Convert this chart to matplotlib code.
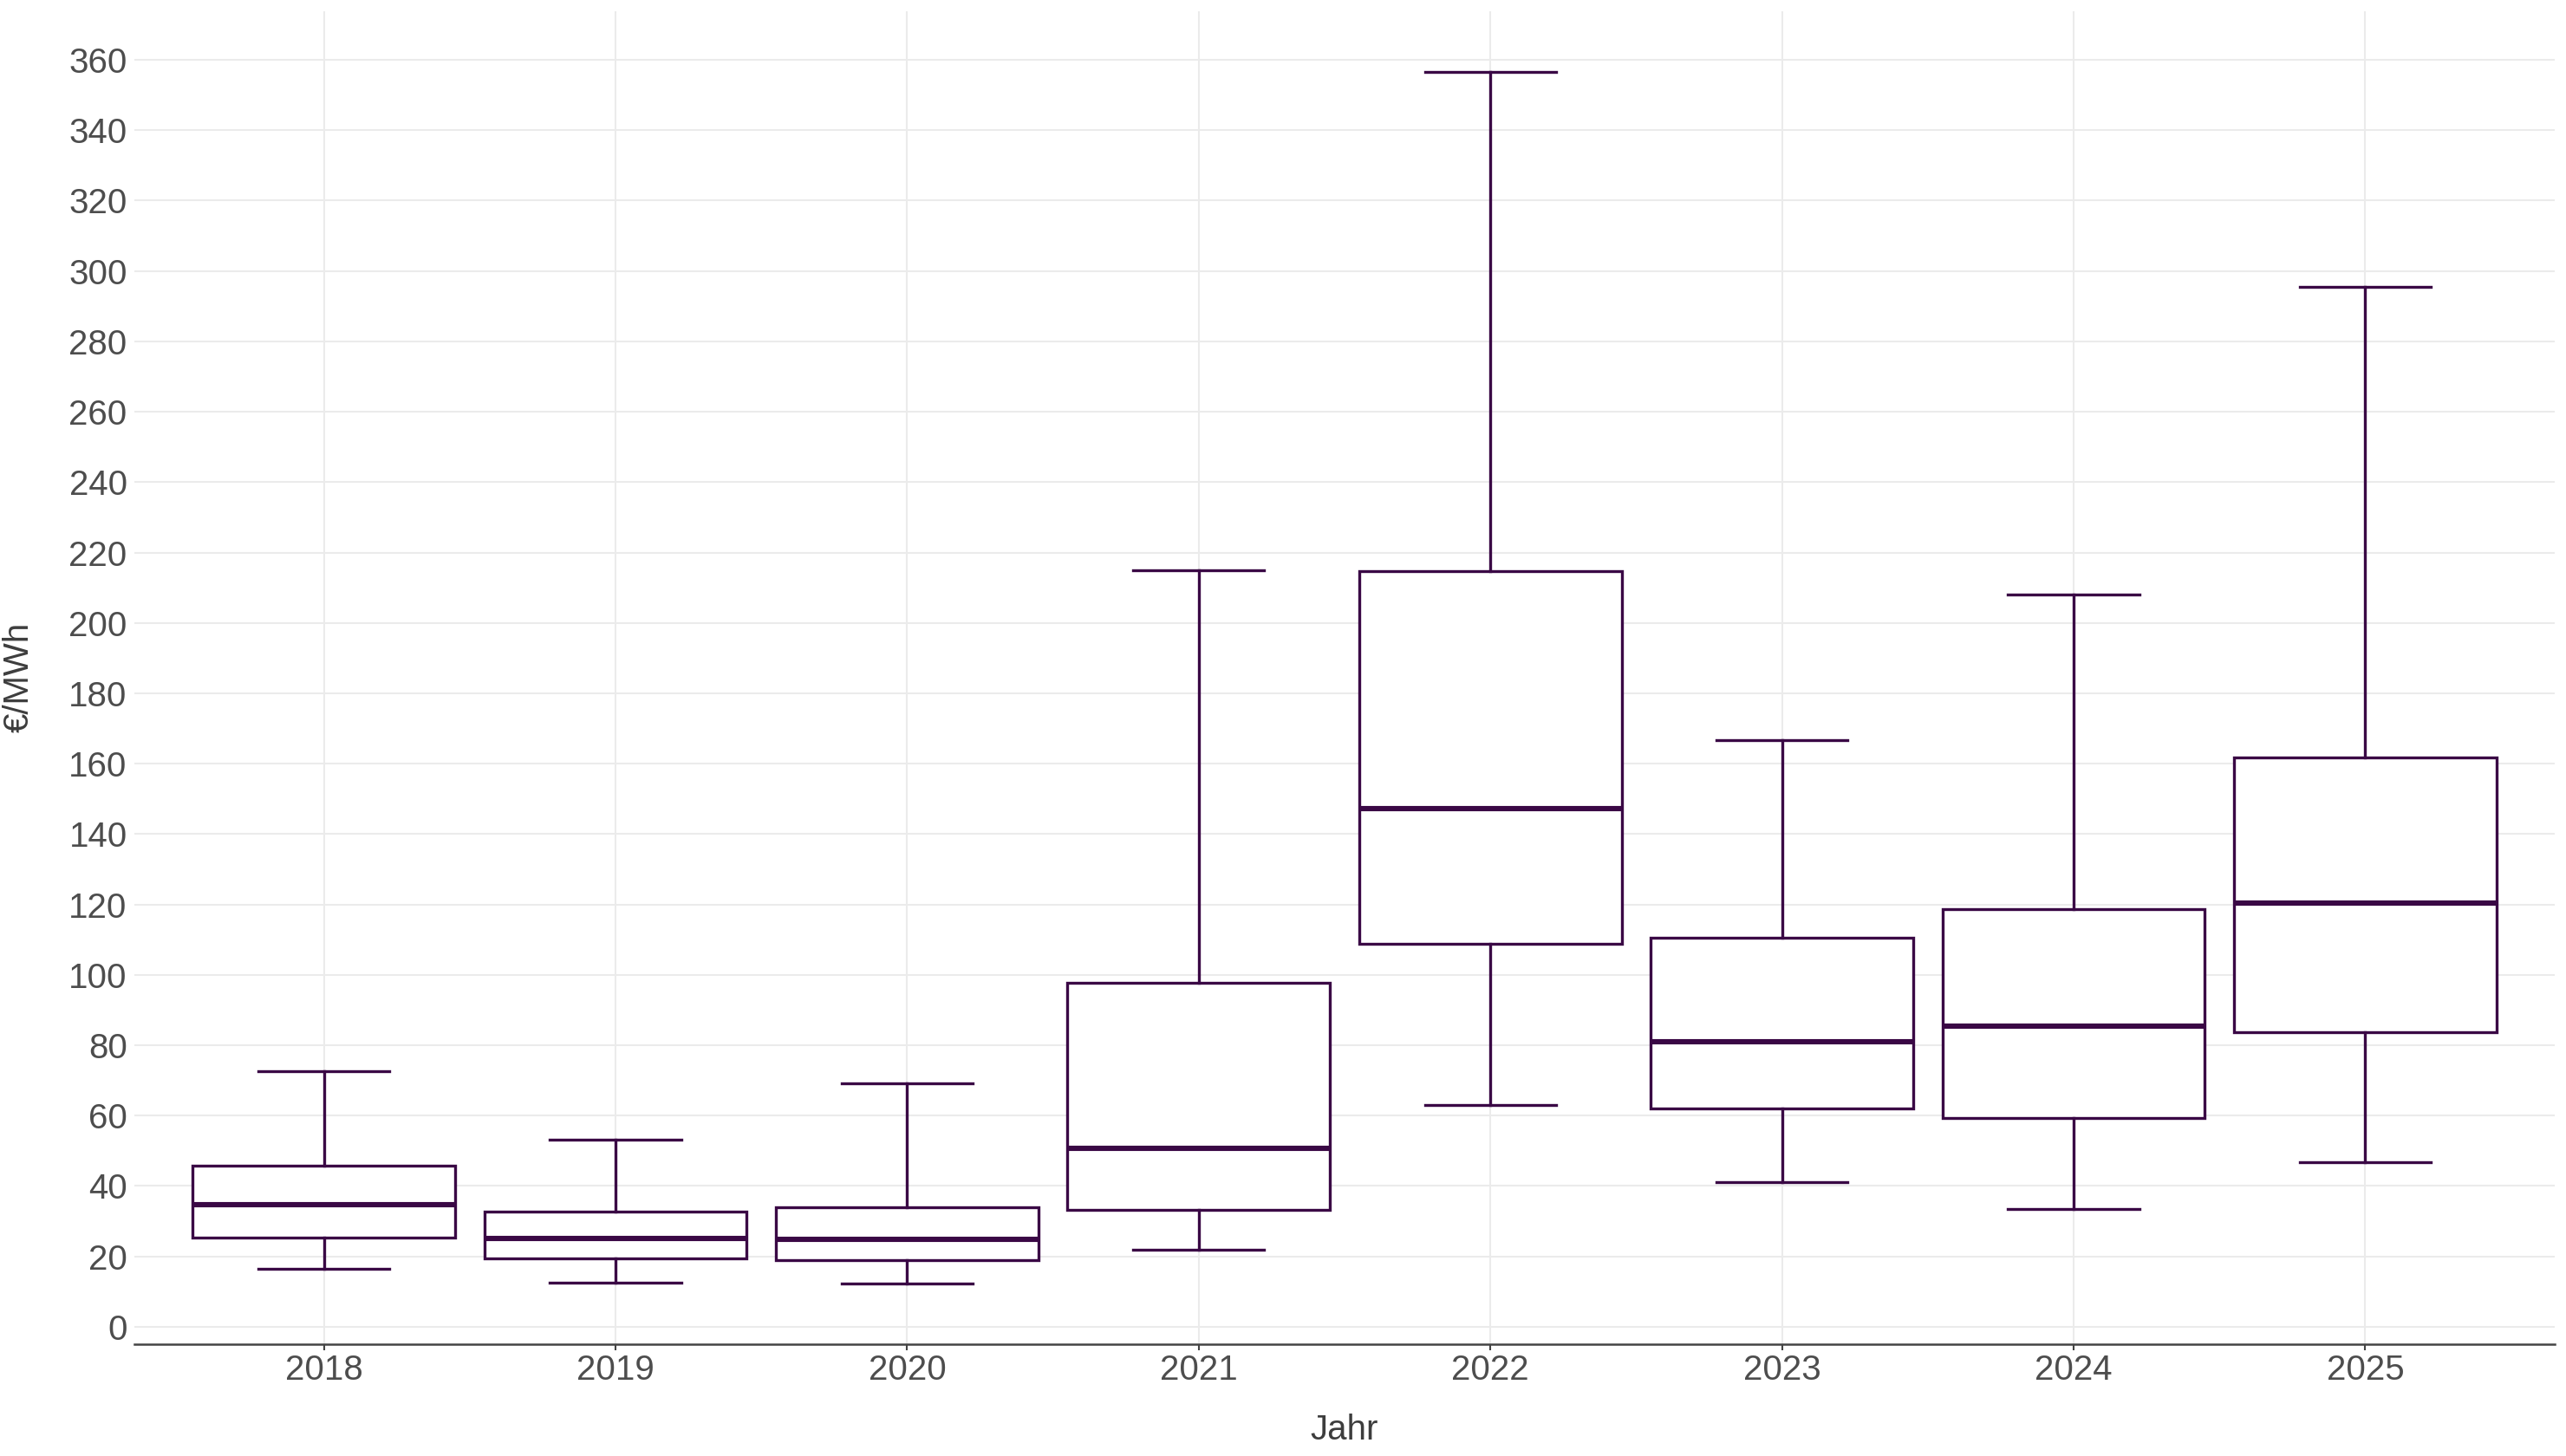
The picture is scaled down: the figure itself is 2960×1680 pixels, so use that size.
import matplotlib.pyplot as plt

# Jahre und Boxplot-Kennzahlen
jahre = ['2018', '2019', '2020', '2021', '2022', '2023', '2024', '2025']
whisker_unten = [16.4, 12.5, 12.2, 21.8, 63.1, 41.1, 33.5, 46.7]
q1 = [25.4, 19.3, 18.9, 33.3, 108.9, 62.1, 59.3, 83.6]
median = [34.6, 25.0, 24.8, 50.8, 147.3, 81.0, 85.4, 120.4]
q3 = [45.8, 32.6, 34.0, 97.8, 214.6, 110.5, 118.6, 161.8]
whisker_oben = [72.7, 53.1, 69.2, 215.0, 356.6, 166.7, 208.0, 295.5]

farbe = '#3a0845'
grau = '#4d4d4d'

plt.rcParams['font.family'] = ['Liberation Sans', 'DejaVu Sans']

fig = plt.figure(figsize=(29.6, 16.8), dpi=100)
ax = fig.add_axes([155 / 2960, 1 - 1550.7 / 1680, 2792 / 2960, 1537.7 / 1680])

stats = []
for j, lo, a, m, b, hi in zip(jahre, whisker_unten, q1, median, q3, whisker_oben):
    stats.append({'label': j, 'whislo': lo, 'q1': a, 'med': m, 'q3': b, 'whishi': hi, 'fliers': []})

ax.bxp(stats, positions=range(1, len(jahre) + 1), widths=0.9, capwidths=0.45,
       showfliers=False, patch_artist=True,
       boxprops=dict(facecolor='white', edgecolor=farbe, linewidth=2.4),
       medianprops=dict(color=farbe, linewidth=4.4, solid_capstyle='butt'),
       whiskerprops=dict(color=farbe, linewidth=2.4),
       capprops=dict(color=farbe, linewidth=2.4))

ax.set_xlim(0.35, 8.65)
ax.set_ylim(-4.9, 373.8)
ax.set_yticks(range(0, 361, 20))

ax.grid(True, color='#ebebeb', linewidth=1.5)
ax.set_axisbelow(True)
for s in ['top', 'right', 'left']:
    ax.spines[s].set_visible(False)
ax.spines['bottom'].set_color('#444444')
ax.spines['bottom'].set_linewidth(1.8)

ax.tick_params(axis='x', colors='#444444', labelcolor=grau, labelsize=29, length=5, width=1.5, pad=3)
ax.tick_params(axis='y', colors=grau, labelsize=29, length=0, pad=6)

ax.set_xlabel('Jahr', fontsize=29, color='#3d3d3d')
ax.set_ylabel('€/MWh', fontsize=29, color='#3d3d3d')
ax.xaxis.set_label_coords(0.5, -0.052)
ax.yaxis.set_label_coords(-0.041, 0.5)

fig.savefig('out.png', dpi=100, facecolor='white')
